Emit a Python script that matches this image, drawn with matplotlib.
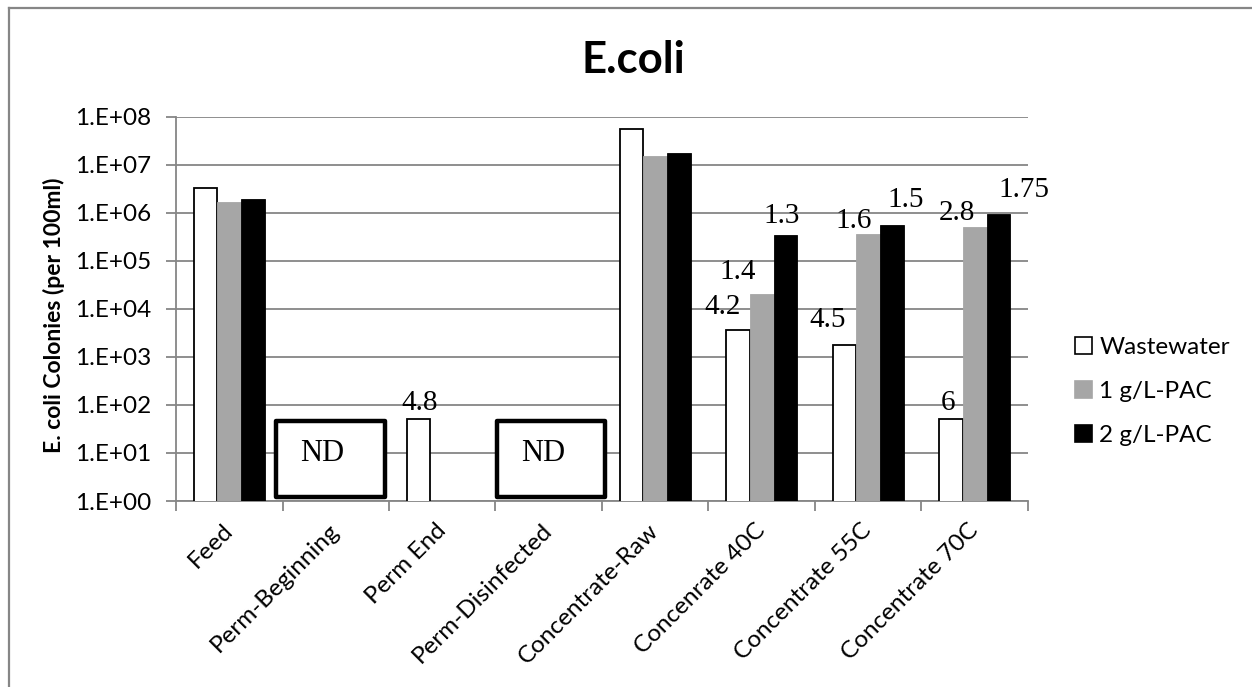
import numpy as np
import matplotlib
matplotlib.use("Agg")
import matplotlib.pyplot as plt
from matplotlib.patches import Rectangle, Patch
from matplotlib.lines import Line2D
from matplotlib.ticker import FixedLocator, FixedFormatter, NullFormatter

nan = np.nan
categories = ["Feed", "Perm-Beginning", "Perm End", "Perm-Disinfected",
              "Concentrate-Raw", "Concenrate 40C", "Concentrate 55C", "Concentrate 70C"]
series_names = ["Wastewater", "1 g/L-PAC", "2 g/L-PAC"]
wastewater = [3.3e6, nan, 50, nan, 5.6e7, 3.6e3, 1.8e3, 50]
pac1 = [1.7e6, nan, nan, nan, 1.5e7, 2.0e4, 3.7e5, 5.0e5]
pac2 = [1.95e6, nan, nan, nan, 1.75e7, 3.4e5, 5.5e5, 9.5e5]
ytick_values = [1e0, 1e1, 1e2, 1e3, 1e4, 1e5, 1e6, 1e7, 1e8]
ytick_labels = ["1.E+00", "1.E+01", "1.E+02", "1.E+03", "1.E+04",
                "1.E+05", "1.E+06", "1.E+07", "1.E+08"]
# data labels: text, series index, category index
label_texts = ["4.8", "4.2", "1.4", "1.3", "4.5", "1.6", "1.5", "6", "2.8", "1.75"]
label_series = [0, 0, 1, 2, 0, 1, 2, 0, 1, 2]
label_cats = [2, 5, 5, 5, 6, 6, 6, 7, 7, 7]
nd_cats = [1, 3]

# label offsets in pixels (dx, dy up)
label_offsets = [(1, 16), (-16, 23), (-24, 22), (-4, 19), (-17, 25),
                 (-15, 13), (14, 25), (-3, 16), (-18, 14), (26, 24)]

W, H = 1252, 687
fig = plt.figure(figsize=(W / 100, H / 100), dpi=100)
ax = fig.add_axes([176 / W, 1 - 501 / H, (1028 - 176) / W, (501 - 116.7) / H])

grid_c = "#868686"
colors = ["white", "#A6A6A6", "black"]
edges = ["black", "#A6A6A6", "black"]
series = [wastewater, pac1, pac2]
x = np.arange(len(categories))
w = 1 / 4.5
offs = [-w, 0, w]

ax.set_yscale("log")
ax.set_ylim(1, 1e8)
ax.set_xlim(-0.5, len(categories) - 0.5)

for s, vals in enumerate(series):
    ax.bar(x + offs[s], vals, width=w, color=colors[s], edgecolor=edges[s],
           linewidth=1.3 if s == 0 else 0.6, zorder=3)

ax.yaxis.set_major_locator(FixedLocator(ytick_values))
ax.yaxis.set_major_formatter(FixedFormatter(ytick_labels))
ax.yaxis.set_minor_locator(FixedLocator([]))
ax.grid(axis="y", color=grid_c, linewidth=1.3, zorder=0)
ax.set_axisbelow(True)

ax.xaxis.set_major_locator(FixedLocator(np.arange(-0.5, len(categories), 1.0)))
ax.xaxis.set_major_formatter(NullFormatter())
ax.xaxis.set_minor_locator(FixedLocator(x))
ax.xaxis.set_minor_formatter(FixedFormatter(categories))
ax.tick_params(axis="x", which="major", length=7, width=1.3, color=grid_c, direction="out")
ax.tick_params(axis="x", which="minor", length=0, pad=19)
ax.tick_params(axis="y", which="major", length=7, width=1.3, color=grid_c, pad=11,
               labelsize=17.5)
for lab in ax.get_yticklabels():
    lab.set_fontfamily("Lato")
for lab in ax.xaxis.get_minorticklabels():
    lab.set_fontfamily("Lato")
    lab.set_fontsize(17.5)
    lab.set_rotation(45)
    lab.set_ha("right")
    lab.set_va("center")
    lab.set_rotation_mode("anchor")

for sp in ["top", "right"]:
    ax.spines[sp].set_visible(False)
for sp in ["left", "bottom"]:
    ax.spines[sp].set_color(grid_c)
    ax.spines[sp].set_linewidth(1.3)

# data labels
for txt, s, c, (dx, dy) in zip(label_texts, label_series, label_cats, label_offsets):
    ax.annotate(txt, xy=(c + offs[s], series[s][c]), xytext=(dx * 0.72, dy * 0.72),
                textcoords="offset points", ha="center", va="center",
                fontfamily="Liberation Serif", fontsize=21, zorder=5)

# ND boxes
for c in nd_cats:
    ax.add_patch(Rectangle((c - 0.56 if c == 1 else c - 0.49, 1.2), 1.02, 47 - 1.2,
                           facecolor="white", edgecolor="black", linewidth=3.2,
                           joinstyle="round", zorder=4))
    ax.text(c - 0.13 if c == 1 else c - 0.05, 9.6, "ND", ha="center", va="center",
            fontfamily="Liberation Serif", fontsize=22, zorder=5)

# title and axis label
fig.text(633 / W, 1 - 73 / H, "E.coli", ha="center", va="baseline",
         fontfamily="Lato", fontweight="bold", fontsize=31.5)
fig.text(54 / W, 1 - 315 / H, "E. coli Colonies (per 100ml)", rotation=90,
         ha="center", va="center", fontfamily="Lato", fontweight="bold", fontsize=16.5)

# legend
handles = [Patch(facecolor=colors[i], edgecolor=edges[i], linewidth=1.2)
           for i in range(3)]
leg = fig.legend(handles, series_names, loc="center left",
                 bbox_to_anchor=(1075 / W, 1 - 391.7 / H), frameon=False,
                 prop={"family": "Lato", "size": 17.5}, handlelength=0.7,
                 handleheight=0.7, handletextpad=0.3, labelspacing=0.95,
                 borderpad=0, borderaxespad=0)

# chart frame (top and left)
fig.add_artist(Line2D([8.5 / W, 1.01], [1 - 7.5 / H, 1 - 7.5 / H],
                      transform=fig.transFigure, color=grid_c, linewidth=1.6))
fig.add_artist(Line2D([8.5 / W, 8.5 / W], [-0.01, 1 - 7.5 / H],
                      transform=fig.transFigure, color=grid_c, linewidth=1.6))

fig.savefig("out.png", dpi=100)
